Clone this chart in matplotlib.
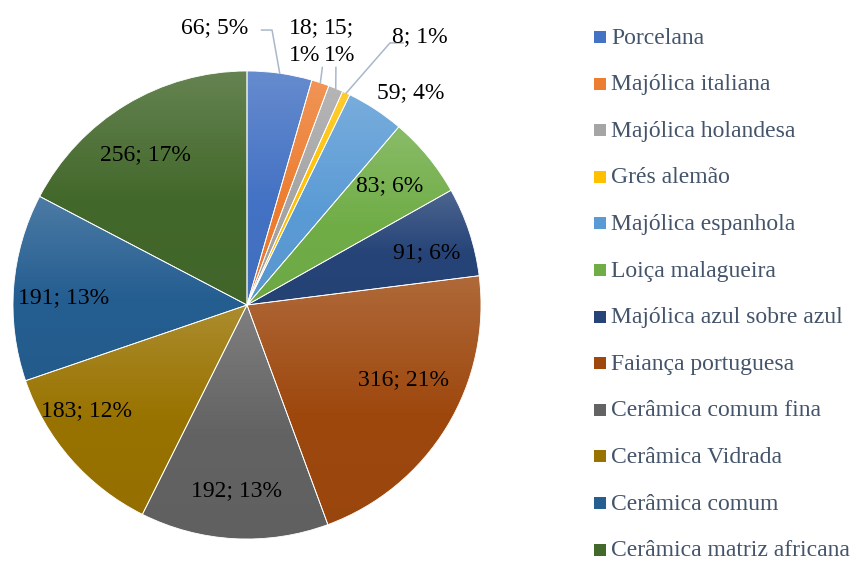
import numpy as np
import matplotlib
matplotlib.use("Agg")
import matplotlib.pyplot as plt
import matplotlib.font_manager as fm
from matplotlib.colors import to_rgb
from matplotlib.patches import Rectangle

# --- Data ---
categories = ["Porcelana", "Majólica italiana", "Majólica holandesa", "Grés alemão",
              "Majólica espanhola", "Loiça malagueira", "Majólica azul sobre azul",
              "Faiança portuguesa", "Cerâmica comum fina", "Cerâmica Vidrada",
              "Cerâmica comum", "Cerâmica matriz africana"]
counts = [66, 18, 15, 8, 59, 83, 91, 316, 192, 183, 191, 256]
percents = [5, 1, 1, 1, 4, 6, 6, 21, 13, 12, 13, 17]

colors = ["#4472C4", "#ED7D31", "#A5A5A5", "#FFC000", "#5B9BD5", "#70AD47",
          "#264478", "#9E480E", "#636363", "#997300", "#255E91", "#43682B"]

# label anchor (x, y in pie radius units), two-line flag, leader line knee
label_pos = [(-0.14, 1.185), (0.245, 1.125), (0.395, 1.125), (0.74, 1.148),
             (0.70, 0.906), (0.611, 0.509), (0.769, 0.222), (0.667, -0.321),
             (-0.047, -0.795), (-0.684, -0.453), (-0.786, 0.030), (-0.436, 0.641)]
two_line = [False, True, True, False, False, False, False, False, False, False, False, False]
leaders = {0: [(0.062, 1.175), (0.107, 1.175)],
           1: [(0.322, 1.015)],
           2: [(0.380, 1.015)],
           3: [(0.667, 1.12), (0.611, 1.12)]}

# pick a Times-like serif font
installed = {f.name for f in fm.fontManager.ttflist}
serif = None
for name in ['Liberation Serif', 'Times New Roman', 'Tinos', 'Noto Serif', 'DejaVu Serif']:
    if name in installed:
        serif = name
        break
plt.rcParams['font.family'] = [serif, 'DejaVu Sans'] if serif else ['DejaVu Sans']

W, H = 856, 561
fig = plt.figure(figsize=(W / 100, H / 100), dpi=100)
cx, cy, R = 247, 305, 234
ax = fig.add_axes([(cx - R) / W, (H - cy - R) / H, 2 * R / W, 2 * R / H])

wedges, _ = ax.pie(counts, startangle=90, counterclock=False, radius=1,
                   colors=colors, wedgeprops=dict(edgecolor="white", linewidth=0.6))


def shade(c, t):
    c = np.array(to_rgb(c))
    return c + (1 - c) * t


# gradient fill per slice, lighter at top
for w, c in zip(wedges, colors):
    ext = w.get_path().get_extents()
    t = np.linspace(0, 1, 200)[:, None]
    top = shade(c, 0.18)
    base = np.array(to_rgb(c))
    bot = base * 0.97
    mix = np.where(t < 0.55, top + (base - top) * (t / 0.55),
                   base + (bot - base) * ((t - 0.55) / 0.45))
    im = ax.imshow(mix[:, None, :], extent=[ext.x0, ext.x1, ext.y0, ext.y1],
                   origin="upper", aspect="auto", zorder=0.5, interpolation="bilinear")
    im.set_clip_path(w)
    w.set_facecolor("none")
    w.set_zorder(1)

ax.set_xlim(-1, 1)
ax.set_ylim(-1, 1)
ax.set_aspect("equal")
ax.axis("off")

# data labels
for i, w in enumerate(wedges):
    lx, ly = label_pos[i]
    sep = "\n" if two_line[i] else " "
    txt = f"{counts[i]};{sep}{percents[i]}%"
    ax.text(lx, ly, txt, ha="center", va="center", fontsize=17, color="#000000",
            linespacing=1.4, zorder=5, clip_on=False)
    if i in leaders:
        mid = np.deg2rad((w.theta1 + w.theta2) / 2)
        pts = leaders[i] + [(np.cos(mid), np.sin(mid))]
        xs, ys = zip(*pts)
        ax.plot(xs, ys, color="#A9B7CB", lw=1.1, zorder=4, clip_on=False)

# legend
row0, step = 37, 46.6
for i, (name, c) in enumerate(zip(categories, colors)):
    y = row0 + i * step
    fig.patches.append(Rectangle((594 / W, 1 - (y + 6) / H), 12 / W, 12 / H,
                                 transform=fig.transFigure, facecolor=c,
                                 edgecolor="none"))
    fig.text(611 / W, 1 - (y + 1) / H, name, ha="left", va="center", fontsize=17,
             color="#44546A")

fig.savefig("out.png", dpi=100, facecolor="white")
